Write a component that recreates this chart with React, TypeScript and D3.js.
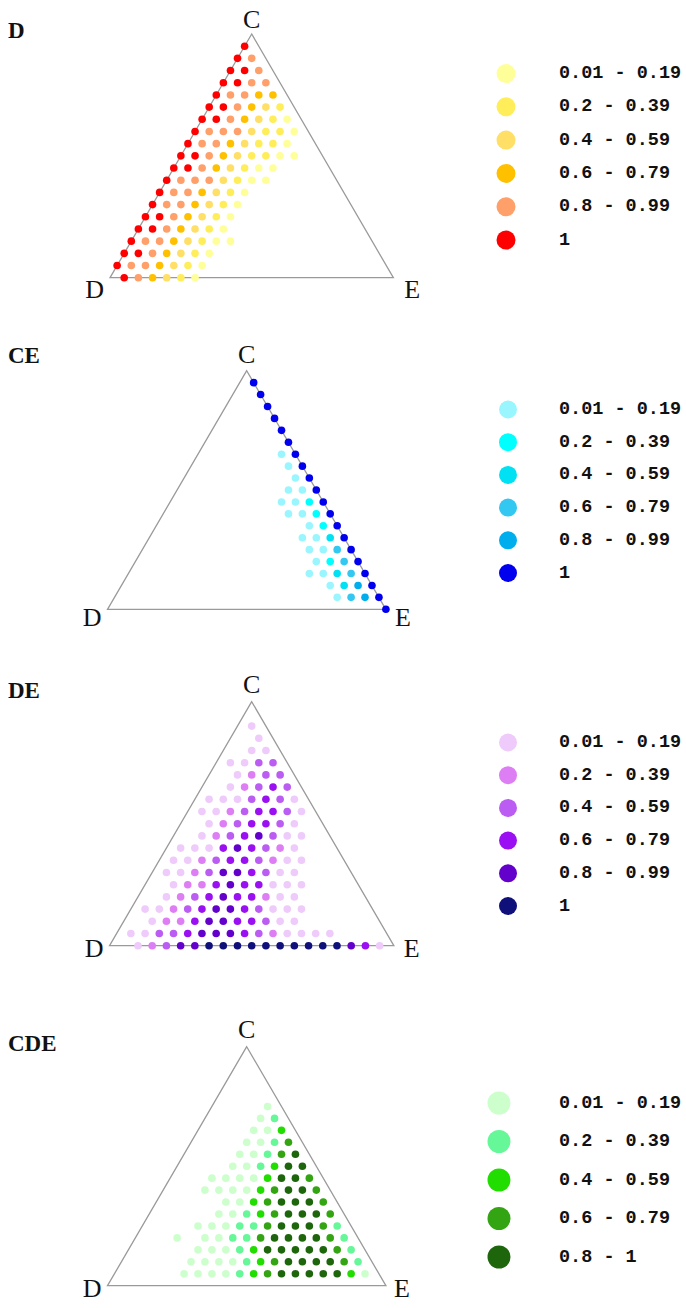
import React from "react";
import * as d3 from "d3";

const STEPS = 20;

// one string per grid row: row 0 = C apex, row 20 = D–E base.
// char index = steps toward E, digit = class (1 = lowest band), "." = no point
const dRows = [
  "",
  "6",
  "65",
  "665",
  "6655",
  "65544",
  "665432",
  "6654321",
  "65553221",
  "65543221",
  "665432211",
  "66543211",
  "65553211",
  "6554321",
  "6554321",
  "6654321",
  "6654321",
  "65543211",
  "6654321",
  "6554321",
  ".654321",
];

const ceRows = [
  "",
  ".6",
  "..6",
  "...6",
  "....6",
  ".....6",
  "......6",
  "......16",
  ".......16",
  "........16",
  "........116",
  "........1126",
  ".........1126",
  "...........126",
  "...........1136",
  "............1146",
  ".............1246",
  ".............11346",
  "...............1356",
  "................1456",
  "....................6",
];

const deRows = [
  "",
  "",
  ".1",
  "..1",
  "..11",
  ".1133",
  "..1233",
  "..12343",
  ".1113431",
  ".11234431",
  "..1234431",
  "..12345311",
  ".111454321",
  ".1123443211",
  ".1123554311",
  "..1224544111",
  "..1234544211",
  ".112345543111",
  "..12245544311",
  ".113345554321111",
  "..123556666666666541",
];

const cdeRows = [
  "",
  "",
  "",
  "",
  "",
  "....1",
  "....12",
  "....113",
  "....1124",
  "....11245",
  "....112355",
  "...11113554",
  "...111134554",
  ".....11345554",
  ".....112345554",
  "....11122455542",
  "...1.11224555542",
  ".....111235555542",
  ".....1111234555542",
  ".....11112345555531",
];

const sixBands = ["0.01 - 0.19", "0.2 - 0.39", "0.4 - 0.59", "0.6 - 0.79", "0.8 - 0.99", "1"];
const fiveBands = ["0.01 - 0.19", "0.2 - 0.39", "0.4 - 0.59", "0.6 - 0.79", "0.8 - 1"];

const dColors = ["#ffff99", "#ffee5a", "#ffdf66", "#ffc000", "#ff9f6a", "#ff0000"];
const ceColors = ["#99f6ff", "#00ffff", "#00e2f4", "#33c8f2", "#00aeee", "#0000ee"];
const deColors = ["#eecbfa", "#de7ef4", "#bb5cf2", "#9a10f2", "#6400cc", "#10107a"];
const cdeColors = ["#ccffcc", "#66f799", "#22dd00", "#33a412", "#1d660c"];

const titles = ["D", "CE", "DE", "CDE"];

const panels = [
  { rows: dRows, colors: dColors, bands: sixBands, apexX: 251.7, top: 34, w: 283.3, h: 243.7,
    titleY: 38, cLabelY: 28, baseLabelY: 298, eGap: 11,
    legX: 506, legTextX: 559, legY: 73.5, legStep: 33.3, legR: 9.5 },
  { rows: ceRows, colors: ceColors, bands: sixBands, apexX: 246.7, top: 370.7, w: 278.4, h: 238.6,
    titleY: 363, cLabelY: 363, baseLabelY: 626, eGap: 9,
    legX: 508, legTextX: 559, legY: 409.5, legStep: 32.7, legR: 9 },
  { rows: deRows, colors: deColors, bands: sixBands, apexX: 251.7, top: 701.7, w: 284.3, h: 244,
    titleY: 698, cLabelY: 693, baseLabelY: 957, eGap: 10,
    legX: 508, legTextX: 559, legY: 742.5, legStep: 32.7, legR: 9 },
  { rows: cdeRows, colors: cdeColors, bands: fiveBands, apexX: 246.7, top: 1046.7, w: 278.4, h: 239,
    titleY: 1051, cLabelY: 1038, baseLabelY: 1297, eGap: 8,
    legX: 499, legTextX: 559, legY: 1103, legStep: 38.5, legR: 11.5 },
];

function Ternary({ p, title }) {
  const C = [p.apexX, p.top];
  const D = [p.apexX - p.w / 2, p.top + p.h];
  const E = [p.apexX + p.w / 2, p.top + p.h];

  // x from (E share + half of C share), y from C share
  const x = d3.scaleLinear().domain([0, 1]).range([D[0], E[0]]);
  const y = d3.scaleLinear().domain([0, 1]).range([D[1], C[1]]);
  const color = d3
    .scaleOrdinal<string, string>()
    .domain(p.colors.map((_, i) => String(i + 1)))
    .range(p.colors);

  const pts = [];
  p.rows.forEach((row, r) => {
    row.split("").forEach((k, j) => {
      if (k === ".") return;
      const c = (STEPS - r) / STEPS;
      const e = j / STEPS;
      pts.push({ cx: x(e + c / 2), cy: y(c), k });
    });
  });

  const outline = d3.line().curve(d3.curveLinearClosed)([C, D, E]);
  const serif = "'Liberation Serif', 'Times New Roman', serif";

  return (
    <g>
      <text x={8} y={p.titleY} fontFamily={serif} fontWeight="bold" fontSize={23} fill="#111">
        {title}
      </text>
      <path d={outline} fill="none" stroke="#9a9a9a" strokeWidth={1.3} />
      {pts.map((d, i) => (
        <circle key={i} cx={d.cx} cy={d.cy} r={3.8} fill={color(d.k)} />
      ))}
      <text x={C[0]} y={p.cLabelY} textAnchor="middle" fontFamily={serif} fontSize={26} fill="#111">C</text>
      <text x={D[0] - 6} y={p.baseLabelY} textAnchor="end" fontFamily={serif} fontSize={26} fill="#111">D</text>
      <text x={E[0] + p.eGap} y={p.baseLabelY} fontFamily={serif} fontSize={26} fill="#111">E</text>
      {p.bands.map((b, i) => (
        <g key={b}>
          <circle cx={p.legX} cy={p.legY + i * p.legStep} r={p.legR} fill={p.colors[i]} />
          <text
            x={p.legTextX}
            y={p.legY + i * p.legStep}
            dominantBaseline="central"
            fontFamily="'Liberation Mono', 'Courier New', monospace"
            fontWeight="bold"
            fontSize={18.5}
            fill="#111"
          >
            {b}
          </text>
        </g>
      ))}
    </g>
  );
}

export default function App() {
  return (
    <svg
      width={686}
      height={1308}
      style={{ position: "absolute", left: 0, top: 0, background: "#fff" }}
    >
      <rect width={686} height={1308} fill="#fff" />
      {panels.map((p, i) => (
        <Ternary key={i} p={p} title={titles[i]} />
      ))}
    </svg>
  );
}
